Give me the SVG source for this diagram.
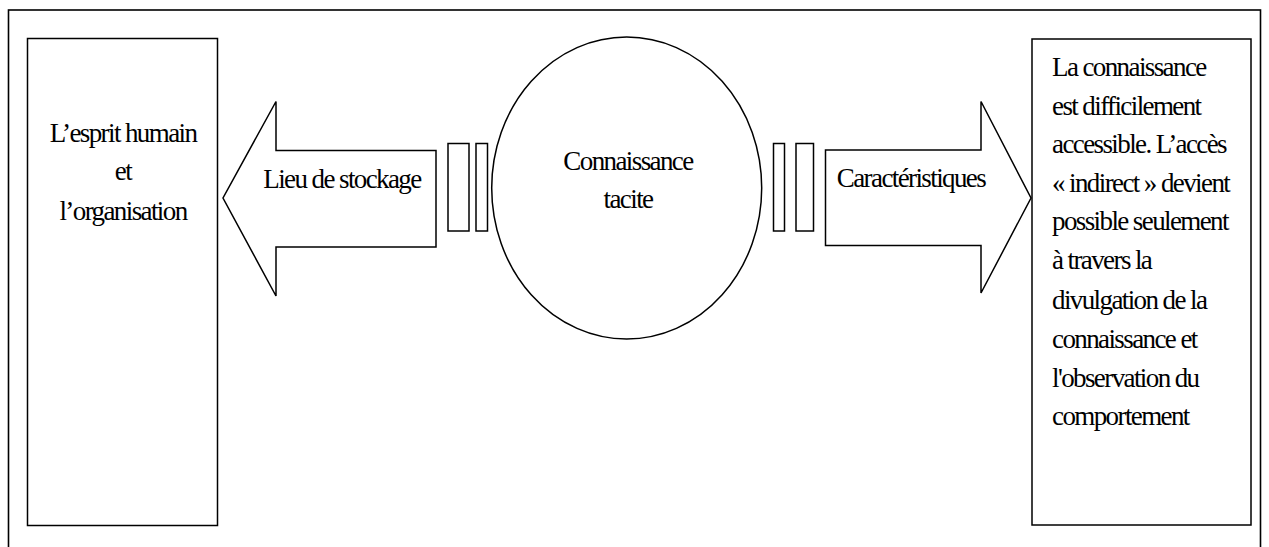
<svg xmlns="http://www.w3.org/2000/svg" width="1269" height="547" viewBox="0 0 1269 547">
  <style>
    .ln { fill: #fff; stroke: #000; stroke-width: 1.5; }
    .frame { fill: none; stroke: #000; stroke-width: 1.6; }
    text { font-family: "Liberation Serif", "Times New Roman", serif; font-size: 27px; letter-spacing: -1.6px; fill: #000; }
    .c { text-anchor: middle; }
  </style>
  <rect width="1269" height="547" fill="#fff"/>
  <!-- outer frame (continues below the visible area) -->
  <rect class="frame" x="8.5" y="10" width="1252" height="560"/>

  <g id="lieu">
    <rect class="ln" x="27.5" y="38.5" width="190" height="487"/>
    <text class="c" x="123" y="142">L’esprit humain</text>
    <text class="c" x="123" y="180">et</text>
    <text class="c" x="123" y="220">l’organisation</text>
  </g>

  <g id="connaissance">
    <ellipse class="ln" cx="626.7" cy="188" rx="135" ry="151"/>
    <text class="c" x="628" y="170">Connaissance</text>
    <text class="c" x="628" y="208">tacite</text>
  </g>

  <g id="caracteristiques-texte">
    <rect class="ln" x="1032" y="39" width="219" height="486"/>
    <text x="1052" y="76">La connaissance</text>
    <text x="1052" y="115">est difficilement</text>
    <text x="1052" y="153">accessible. L’accès</text>
    <text x="1052" y="192">« indirect » devient</text>
    <text x="1052" y="230">possible seulement</text>
    <text x="1052" y="269">à travers la</text>
    <text x="1052" y="309">divulgation de la</text>
    <text x="1052" y="348">connaissance et</text>
    <text x="1052" y="387">l'observation du</text>
    <text x="1052" y="425">comportement</text>
  </g>

  <g id="connectors">
    <!-- left block arrow -->
    <polygon class="ln" points="436,150.5 276,150.5 276,101.5 223,198 276,296 276,247 436,247"/>
    <text class="c" x="342" y="188">Lieu de stockage</text>
    <rect class="ln" x="448" y="143.5" width="21" height="87.5"/>
    <rect class="ln" x="476" y="143.5" width="11.5" height="87.5"/>
    <!-- right block arrow -->
    <rect class="ln" x="773.5" y="143.5" width="11" height="87.5"/>
    <rect class="ln" x="796" y="143.5" width="17.5" height="87.5"/>
    <polygon class="ln" points="825.5,150 981,150 981,101.5 1031,198 981,293 981,245.5 825.5,245.5"/>
    <text class="c" x="911" y="187">Caractéristiques</text>
  </g>
</svg>
